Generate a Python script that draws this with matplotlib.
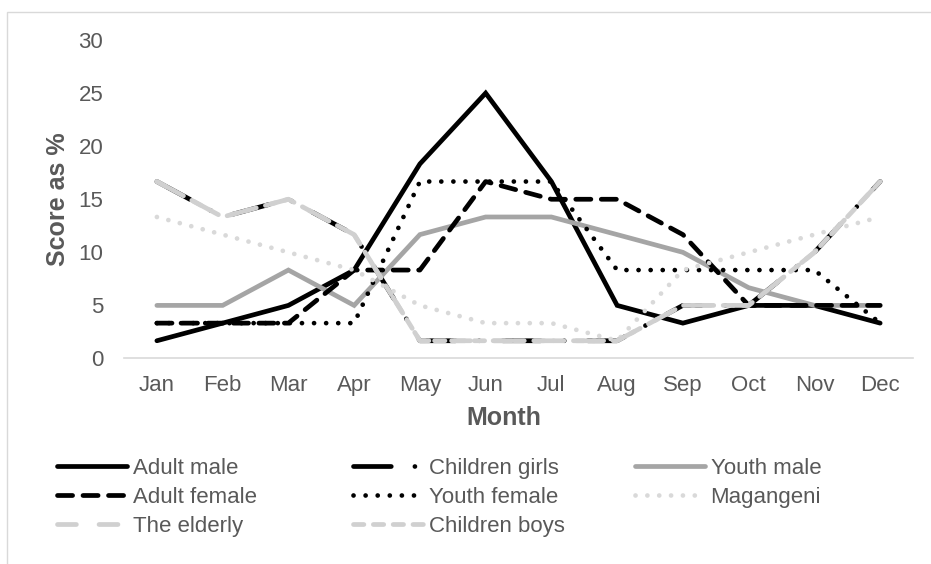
import matplotlib
matplotlib.use("Agg")
import matplotlib.pyplot as plt
from matplotlib.patches import Rectangle

months = ["Jan", "Feb", "Mar", "Apr", "May", "Jun", "Jul", "Aug", "Sep", "Oct", "Nov", "Dec"]

adult_male = [1.67, 3.33, 5.0, 8.33, 18.33, 25.0, 16.67, 5.0, 3.33, 5.0, 5.0, 3.33]
children_girls = [16.67, 13.33, 15.0, 11.67, 1.67, 1.67, 1.67, 1.67, 5.0, 5.0, 10.0, 16.67]
youth_male = [5.0, 5.0, 8.33, 5.0, 11.67, 13.33, 13.33, 11.67, 10.0, 6.67, 5.0, 5.0]
adult_female = [3.33, 3.33, 3.33, 8.33, 8.33, 16.67, 15.0, 15.0, 11.67, 5.0, 5.0, 5.0]
youth_female = [3.33, 3.33, 3.33, 3.33, 16.67, 16.67, 16.67, 8.33, 8.33, 8.33, 8.33, 3.33]
magangeni = [13.33, 11.67, 10.0, 8.33, 5.0, 3.33, 3.33, 1.67, 8.33, 10.0, 11.67, 13.33]
the_elderly = [16.67, 13.33, 15.0, 11.67, 1.67, 1.67, 1.67, 1.67, 5.0, 5.0, 10.0, 16.67]
children_boys = [16.67, 13.33, 15.0, 11.67, 1.67, 1.67, 1.67, 1.67, 5.0, 5.0, 10.0, 16.67]

plt.rcParams["font.family"] = ["Liberation Sans", "DejaVu Sans"]

fig = plt.figure(figsize=(9.31, 5.64), dpi=100)
ax = fig.add_axes([0.1332, 0.3644, 0.8475, 0.5646])

x = list(range(len(months)))
LW = 3.4
series = [
    ("Adult male", adult_male, dict(color="black", linestyle="-")),
    ("Children girls", children_girls, dict(color="black", linestyle=(0, (8.0, 5.0, 0.01, 5.0)))),
    ("Youth male", youth_male, dict(color="#A5A5A5", linestyle="-")),
    ("Adult female", adult_female, dict(color="black", linestyle=(0, (3.2, 2.2)))),
    ("Youth female", youth_female, dict(color="black", linestyle=(0, (0.01, 2.55)))),
    ("Magangeni", magangeni, dict(color="#D9D9D9", linestyle=(0, (0.01, 2.5)))),
    ("The elderly", the_elderly, dict(color="#D0D0D0", linestyle=(0, (4.0, 4.8)))),
    ("Children boys", children_boys, dict(color="#D0D0D0", linestyle=(0, (2.2, 2.0)))),
]
handles = {}
for name, vals, st in series:
    (ln,) = ax.plot(x, vals, lw=LW, solid_capstyle="round", dash_capstyle="round",
                    solid_joinstyle="miter", label=name, **st)
    handles[name] = ln

ax.set_xlim(-0.5, 11.5)
ax.set_ylim(0, 30)
ax.set_yticks(range(0, 31, 5))
ax.set_xticks(x)
ax.set_xticklabels(months)
for s in ["top", "right", "left"]:
    ax.spines[s].set_visible(False)
ax.spines["bottom"].set_color("#D9D9D9")
ax.spines["bottom"].set_linewidth(1.2)
ax.tick_params(axis="both", length=0, labelsize=16, labelcolor="#595959")
ax.tick_params(axis="x", pad=12)
ax.tick_params(axis="y", pad=15)

ax.set_ylabel("Score as %", fontsize=18, fontweight="bold", color="#595959", labelpad=6)
fig.text(504 / 931, 1 - 418 / 564, "Month", fontsize=18, fontweight="bold",
         color="#595959", ha="center", va="center")

cols = [
    (["Adult male", "Adult female", "The elderly"], 57),
    (["Children girls", "Youth female", "Children boys"], 353),
    (["Youth male", "Magangeni"], 635),
]
for names, xpx in cols:
    lg = fig.legend([handles[n] for n in names], names, loc="upper left",
                    bbox_to_anchor=(xpx / 931, 1 - 458 / 564), frameon=False,
                    fontsize=16, handlelength=3.15, handletextpad=0.25,
                    labelspacing=0.35, borderpad=0, borderaxespad=0)
    for t in lg.get_texts():
        t.set_color("#595959")

fig.add_artist(Rectangle((7 / 931, -0.1), 1.2, 1 - 12 / 564 + 0.1, transform=fig.transFigure,
                         fill=False, edgecolor="#D9D9D9", linewidth=1.0))

fig.savefig("out.png", dpi=100)
